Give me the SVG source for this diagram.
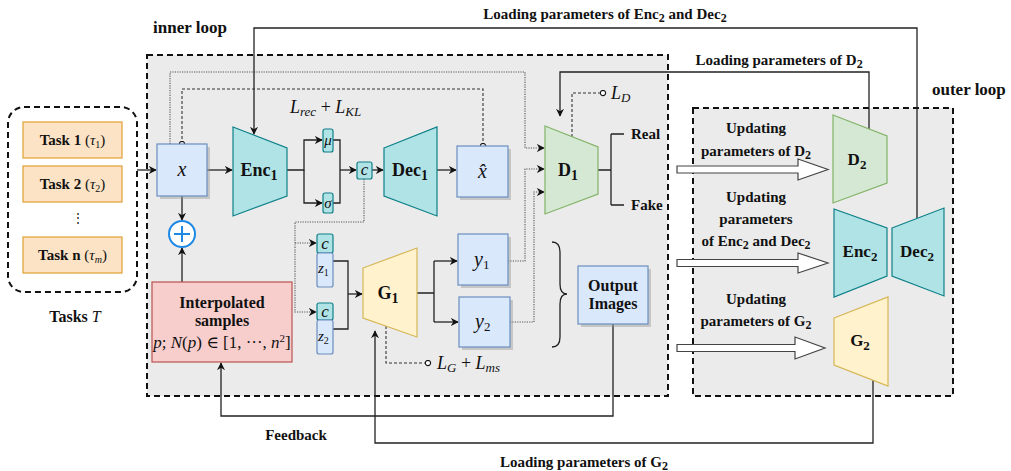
<svg xmlns="http://www.w3.org/2000/svg" width="1011" height="471" viewBox="0 0 1011 471" font-family="'Liberation Serif', 'Times New Roman', 'DejaVu Serif', serif">
<defs>
<marker id="ah" viewBox="0 0 10 10" refX="9" refY="5" markerWidth="8" markerHeight="8" orient="auto" markerUnits="userSpaceOnUse">
<path d="M0,0 L10,5 L0,10 L3,5 z" fill="#111"/>
</marker>
<marker id="oc" viewBox="0 0 8 8" refX="4" refY="4" markerWidth="7" markerHeight="7" markerUnits="userSpaceOnUse">
<circle cx="4" cy="4" r="3" fill="#fff" stroke="#111" stroke-width="1.2"/>
</marker>
</defs>
<style>
.bg{fill:#ebebeb;stroke:#111;stroke-width:2;stroke-dasharray:6 4}
.ln{fill:none;stroke:#222;stroke-width:1.3}
.arr{marker-end:url(#ah)}
.dot{fill:none;stroke:#555;stroke-width:1.1;stroke-dasharray:1.2 1.2}
.dash{fill:none;stroke:#333;stroke-width:1.1;stroke-dasharray:3 2}
.teal{fill:#b0e3e6;stroke:#0e8088;stroke-width:1.2}
.green{fill:#d5e8d4;stroke:#82b366;stroke-width:1.2}
.yel{fill:#fff2cc;stroke:#d6b656;stroke-width:1.2}
.blue{fill:#dae8fc;stroke:#6c8ebf;stroke-width:1.2}
.red{fill:#f8cecc;stroke:#b85450;stroke-width:1.2}
.task{fill:#fde3c5;stroke:#e0a030;stroke-width:1.2}
.sh{fill:#9a9a9a;opacity:0.45}
.hol{fill:#fff;stroke:#444;stroke-width:1.2}
text{font-family:"Liberation Serif","Times New Roman","DejaVu Serif",serif;fill:#111}
.b{font-weight:bold}
.i{font-style:italic}
.m{text-anchor:middle}
</style>

<g id="inner-loop">
<rect class="bg" x="147" y="55" width="521" height="341"/>
<text class="b" x="153" y="33" font-size="17">inner loop</text>
</g>
<g id="outer-loop">
<rect class="bg" x="693" y="108" width="260" height="288"/>
<text class="b" x="932" y="95" font-size="17">outer loop</text>
</g>

<g id="connectors">
<path class="ln arr" d="M137,170 H156"/>
<path class="ln arr" d="M207,170 H232"/>
<path class="ln arr" d="M287,170 H304 V140 H322"/>
<path class="ln arr" d="M304,170 V203 H322"/>
<path class="ln" d="M333,140 H340 V203 H333"/>
<path class="ln arr" d="M340,170 H356"/>
<path class="ln arr" d="M372,170 H383"/>
<path class="ln arr" d="M437,170 H456"/>
<path class="dot arr" d="M170,144 V72 H525 V148 H544"/>
<path class="dash" d="M182,144 V89 H483 V146" marker-start="url(#oc)" marker-end="url(#oc)"/>
<path class="ln" d="M598,170 H611 M611,134 V205 M611,134 H624 M611,205 H624"/>
<path class="dash" d="M572,137 V93 H603" marker-end="url(#oc)"/>
<path class="ln arr" d="M869,129 V72 H560 V116"/>
<path class="ln arr" d="M917,218 V28 H254 V134"/>
<path class="ln arr" d="M182,196 V220"/>
<path class="ln arr" d="M182,282 V248"/>
<path class="dot arr" d="M364,179 V222 H295 V312 H316"/>
<path class="dot arr" d="M295,243 H316"/>
<path class="ln" d="M333,261 H348 V329 H333"/>
<path class="ln arr" d="M348,294 H362"/>
<path class="ln" d="M417,293 H434 M434,261 V322"/>
<path class="ln arr" d="M434,261 H457"/>
<path class="ln arr" d="M434,322 H458"/>
<path class="dot arr" d="M508,261 H525 V169 H544"/>
<path class="dot arr" d="M510,322 H534 V192 H544"/>
<path class="dash" d="M386,326 V363 H428" marker-end="url(#oc)"/>
<path class="ln arr" d="M613,324 V416 H221 V363"/>
<path class="ln arr" d="M873,380 V443 H375 V331"/>
<path class="ln" d="M552,242 Q560,242 560,252 V284 Q560,294 567,294 Q560,294 560,304 V337 Q560,347 552,347"/>
<polygon class="hol" points="677,166 798,166 798,159 828,169.5 798,180 798,173 677,173"/>
<polygon class="hol" points="677,259.5 798,259.5 798,253 828,263 798,273 798,266.5 677,266.5"/>
<polygon class="hol" points="677,344.5 795,344.5 795,337 825,348 795,359 795,351.5 677,351.5"/>
</g>

<g id="tasks">
<rect x="8" y="107" width="129" height="185" rx="16" fill="none" stroke="#111" stroke-width="2" stroke-dasharray="6 4"/>
<text class="m" x="75" y="322" font-size="16"><tspan class="b">Tasks </tspan><tspan class="i">T</tspan></text>
</g>
<g id="task1">
<rect class="task" x="23" y="122" width="99" height="36"/>
<text class="m" x="72.5" y="145" font-size="15"><tspan class="b">Task 1</tspan> (<tspan class="i">τ</tspan><tspan font-size="10" dy="3">1</tspan><tspan dy="-3">)</tspan></text>
</g>
<g id="task2">
<rect class="task" x="23" y="166" width="99" height="36"/>
<text class="m" x="72.5" y="189" font-size="15"><tspan class="b">Task 2</tspan> (<tspan class="i">τ</tspan><tspan font-size="10" dy="3">2</tspan><tspan dy="-3">)</tspan></text>
</g>
<g id="task-dots">
<text class="m" x="78" y="222" font-size="12">⋮</text>
</g>
<g id="taskn">
<rect class="task" x="23" y="237" width="99" height="36"/>
<text class="m" x="72.5" y="260" font-size="15"><tspan class="b">Task n</tspan> (<tspan class="i">τ</tspan><tspan class="i" font-size="10" dy="3">m</tspan><tspan dy="-3">)</tspan></text>
</g>

<g id="x">
<rect class="sh" x="160" y="147" width="50" height="52"/>
<rect class="blue" x="157" y="144" width="50" height="52"/>
<text class="m i" x="182" y="176" font-size="20">x</text>
</g>
<g id="enc1">
<polygon class="teal" points="233,127 287,148 287,196 233,216"/>
<text class="m b" x="259" y="176" font-size="18">Enc<tspan font-size="14" dy="4">1</tspan></text>
</g>
<g id="mu">
<rect class="teal" x="323" y="129" width="10" height="23" rx="2"/>
<text class="m i" x="328" y="145" font-size="15">μ</text>
</g>
<g id="sigma">
<rect class="teal" x="323" y="193" width="10" height="20" rx="2"/>
<text class="m i" x="328" y="208" font-size="15">σ</text>
</g>
<g id="c">
<rect class="teal" x="357" y="162" width="15" height="17" rx="2"/>
<text class="m i" x="364.5" y="175" font-size="17">c</text>
</g>
<g id="dec1">
<polygon class="teal" points="384,148 437,127 437,216 384,196"/>
<text class="m b" x="410" y="176" font-size="18">Dec<tspan font-size="14" dy="4">1</tspan></text>
</g>
<g id="xhat">
<rect class="sh" x="460" y="149" width="51" height="51"/>
<rect class="blue" x="457" y="146" width="51" height="51"/>
<text class="m i" x="482.5" y="178" font-size="20">x̂</text>
</g>
<g id="lrec">
<text x="290" y="113" font-size="18"><tspan class="i">L</tspan><tspan class="i" font-size="13" dy="3">rec</tspan><tspan dy="-3"> + </tspan><tspan class="i">L</tspan><tspan class="i" font-size="13" dy="3">KL</tspan></text>
</g>
<g id="d1">
<polygon class="green" points="545,126 598,147 598,194 545,214"/>
<text class="m b" x="568" y="176" font-size="18">D<tspan font-size="14" dy="4">1</tspan></text>
</g>
<g id="ld">
<text x="611" y="99" font-size="18"><tspan class="i">L</tspan><tspan class="i" font-size="13" dy="3">D</tspan></text>
</g>
<g id="real"><text class="b" x="631" y="139" font-size="15">Real</text></g>
<g id="fake"><text class="b" x="631" y="210" font-size="15">Fake</text></g>

<g id="plus">
<circle cx="182" cy="234" r="13" fill="#fff" stroke="#1e88e5" stroke-width="2"/>
<path d="M182,226 V242 M174,234 H190" stroke="#1e88e5" stroke-width="2"/>
</g>
<g id="interp">
<rect class="red" x="152" y="282" width="140" height="80"/>
<text class="m b" x="222" y="308" font-size="16">Interpolated</text>
<text class="m b" x="222" y="326" font-size="16">samples</text>
<text class="m" x="222" y="348" font-size="17"><tspan class="i">p</tspan>; <tspan class="i">N</tspan>(<tspan class="i">p</tspan>) ∈ [1, ···, <tspan class="i">n</tspan><tspan font-size="11" dy="-6">2</tspan><tspan dy="6">]</tspan></text>
</g>
<g id="cz1">
<rect class="teal" x="317" y="234" width="16" height="19" rx="2"/>
<text class="m i" x="325" y="249" font-size="17">c</text>
<rect class="blue" x="317" y="253" width="16" height="34" rx="2"/>
<text class="i" x="318" y="273" font-size="15">z<tspan font-size="10" dy="3" font-style="normal">1</tspan></text>
</g>
<g id="cz2">
<rect class="teal" x="317" y="303" width="16" height="17" rx="2"/>
<text class="m i" x="325" y="317" font-size="17">c</text>
<rect class="blue" x="317" y="320" width="16" height="34" rx="2"/>
<text class="i" x="318" y="341" font-size="15">z<tspan font-size="10" dy="3" font-style="normal">2</tspan></text>
</g>
<g id="g1">
<polygon class="yel" points="363,268 417,248 417,337 363,318"/>
<text class="m b" x="388" y="299" font-size="18">G<tspan font-size="14" dy="4">1</tspan></text>
</g>
<g id="y1">
<rect class="sh" x="461" y="237" width="50" height="51"/>
<rect class="blue" x="458" y="234" width="50" height="51"/>
<text class="i" x="474" y="266" font-size="20">y<tspan font-size="13" dy="3" font-style="normal">1</tspan></text>
</g>
<g id="y2">
<rect class="sh" x="462" y="300" width="51" height="50"/>
<rect class="blue" x="459" y="297" width="51" height="50"/>
<text class="i" x="475" y="328" font-size="20">y<tspan font-size="13" dy="3" font-style="normal">2</tspan></text>
</g>
<g id="lg">
<text x="437" y="369" font-size="18"><tspan class="i">L</tspan><tspan class="i" font-size="13" dy="3">G</tspan><tspan dy="-3"> + </tspan><tspan class="i">L</tspan><tspan class="i" font-size="13" dy="3">ms</tspan></text>
</g>
<g id="output">
<rect class="sh" x="581" y="269" width="70" height="58"/>
<rect class="blue" x="578" y="266" width="70" height="58"/>
<text class="m b" x="613" y="291" font-size="16">Output</text>
<text class="m b" x="613" y="309" font-size="16">Images</text>
</g>

<g id="d2">
<polygon class="green" points="833,115 887,136 887,183 833,203"/>
<text class="m b" x="857" y="165" font-size="17">D<tspan font-size="13" dy="4">2</tspan></text>
</g>
<g id="enc2">
<polygon class="teal" points="834,209 887,228 887,276 834,297"/>
<text class="m b" x="860" y="257" font-size="17">Enc<tspan font-size="13" dy="4">2</tspan></text>
</g>
<g id="dec2">
<polygon class="teal" points="892,228 944,208 944,296 892,276"/>
<text class="m b" x="917" y="257" font-size="17">Dec<tspan font-size="13" dy="4">2</tspan></text>
</g>
<g id="g2">
<polygon class="yel" points="834,318 888,297 888,386 834,365"/>
<text class="m b" x="860" y="346" font-size="17">G<tspan font-size="13" dy="4">2</tspan></text>
</g>

<g id="labels">
<text class="m b" x="605" y="19" font-size="15">Loading parameters of Enc<tspan font-size="12" dy="3">2</tspan><tspan dy="-3"> and Dec</tspan><tspan font-size="12" dy="3">2</tspan></text>
<text class="m b" x="779" y="65" font-size="15">Loading parameters of D<tspan font-size="12" dy="3">2</tspan></text>
<text class="m b" x="756" y="133" font-size="15">Updating</text>
<text class="m b" x="756" y="156" font-size="15">parameters of D<tspan font-size="12" dy="3">2</tspan></text>
<text class="m b" x="756" y="202" font-size="15">Updating</text>
<text class="m b" x="756" y="224" font-size="15">parameters</text>
<text class="m b" x="756" y="246" font-size="15">of  Enc<tspan font-size="12" dy="3">2</tspan><tspan dy="-3"> and Dec</tspan><tspan font-size="12" dy="3">2</tspan></text>
<text class="m b" x="756" y="304" font-size="15">Updating</text>
<text class="m b" x="756" y="326" font-size="15">parameters of  G<tspan font-size="12" dy="3">2</tspan></text>
<text class="m b" x="296" y="440" font-size="15">Feedback</text>
<text class="m b" x="584" y="467" font-size="15">Loading parameters of G<tspan font-size="12" dy="3">2</tspan></text>
</g>
</svg>
